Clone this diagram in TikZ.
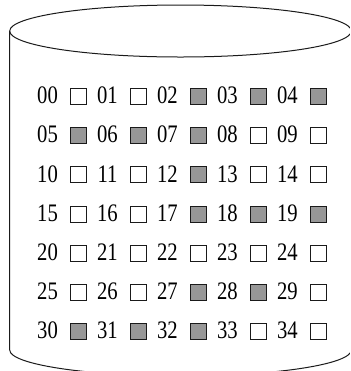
\documentclass[tikz,border=0pt]{standalone}
\usepackage{fontspec}
\setmainfont[FakeStretch=0.82]{Liberation Serif}
\usepackage{tikz}
\usetikzlibrary{positioning}
\definecolor{slotfill}{HTML}{979797}
\definecolor{inkone}{HTML}{1a1a1a}

\begin{document}
\begin{tikzpicture}[x=0.5pt,y=-0.5pt,line width=0.5pt,
  num/.style={inner sep=0pt,font=\fontsize{12.6}{14}\selectfont},
  slot/.style={draw=inkone,fill=white,minimum size=8pt,inner sep=0pt},
  used/.style={slot,fill=slotfill}]
  \clip (0,0) rectangle (350,371);
  % drum outline
  \draw[inkone] (180.5,31) ellipse [x radius=170.8,y radius=26];
  \draw[inkone] (9.7,31) -- (9.7,350) arc[start angle=180,end angle=0,x radius=170.8,y radius=26] -- (351.3,31);
  % block numbers and their state
  \foreach \f [count=\i from 0] in {0,0,1,1,1, 1,1,1,0,0, 0,0,1,0,0, 0,0,1,1,1,
                                    0,0,0,0,0, 0,0,1,1,0, 1,1,1,0,0}{
    \pgfmathtruncatemacro\r{\i/5}
    \pgfmathtruncatemacro\c{\i-5*\r}
    \node[num] (n\i) at (47.5+60*\c,95.5+39.2*\r) {\ifnum\i<10 0\fi\i};
    \ifnum\f=1
      \node[used] (b\i) at (78.5+60*\c,96.5+39.2*\r) {};
    \else
      \node[slot] (b\i) at (78.5+60*\c,96.5+39.2*\r) {};
    \fi
  }
\end{tikzpicture}
\end{document}
